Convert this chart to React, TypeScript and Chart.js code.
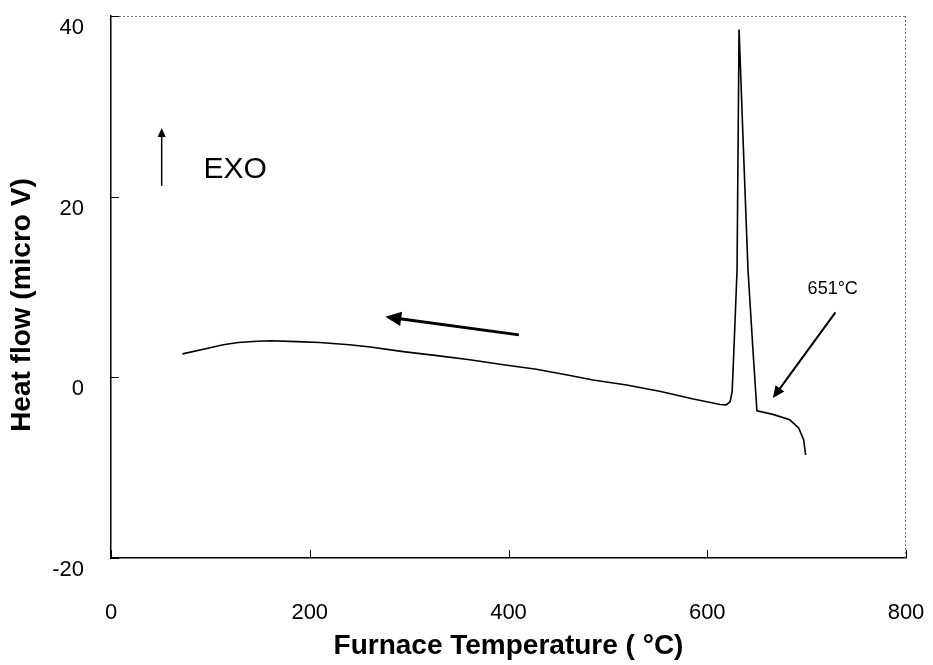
import React, { useEffect, useRef } from "react";
import { Chart, registerables } from "chart.js";

Chart.register(...registerables);

const temps = [72, 93, 113, 128, 147, 160, 187, 210, 240, 261, 294, 328, 361, 395, 428, 462, 485, 519, 552, 586, 613, 619, 623, 625, 626, 628, 630, 632, 636.5, 641, 646, 650, 666, 683, 692, 697, 699];
const heatFlow = [2.6, 3.1, 3.6, 3.85, 4.0, 4.05, 3.95, 3.85, 3.6, 3.35, 2.85, 2.4, 1.95, 1.4, 0.9, 0.2, -0.3, -0.85, -1.55, -2.4, -3.0, -3.05, -2.7, -1.6, 0.8, 6.3, 11.9, 38.5, 25.0, 11.9, 3.0, -3.7, -4.1, -4.7, -5.6, -6.9, -8.6];

const xTicks = [0, 200, 400, 600, 800];
const yTicks = [-20, 0, 20, 40];

const xTitle = "Furnace Temperature ( °C)";
const yTitle = "Heat flow (micro V)";
const exoLabel = "EXO";
const onsetLabel = "651°C";

// annotation anchors in data units
const exoArrow = [51, 21.2, 51, 27.6];
const exoText = [93, 23];
const coolArrow = [410.5, 4.7, 276, 6.7];
const onsetArrow = [729, 7.2, 666, -2.3];
const onsetText = [701, 9.8];
const yTitleCenter = 8; // data units along y

const FONT = "'Liberation Sans', Arial, Helvetica, sans-serif";

function arrow(ctx: CanvasRenderingContext2D, x1: number, y1: number, x2: number, y2: number, w: number, head: number) {
  const ang = Math.atan2(y2 - y1, x2 - x1);
  ctx.save();
  ctx.strokeStyle = "#000";
  ctx.fillStyle = "#000";
  ctx.lineWidth = w;
  ctx.beginPath();
  ctx.moveTo(x1, y1);
  ctx.lineTo(x2 - Math.cos(ang) * head * 0.8, y2 - Math.sin(ang) * head * 0.8);
  ctx.stroke();
  ctx.beginPath();
  ctx.moveTo(x2, y2);
  ctx.lineTo(x2 - head * Math.cos(ang) + head * 0.45 * Math.sin(ang), y2 - head * Math.sin(ang) - head * 0.45 * Math.cos(ang));
  ctx.lineTo(x2 - head * Math.cos(ang) - head * 0.45 * Math.sin(ang), y2 - head * Math.sin(ang) + head * 0.45 * Math.cos(ang));
  ctx.closePath();
  ctx.fill();
  ctx.restore();
}

const decor = {
  id: "decor",
  afterDraw(chart: any) {
    const { ctx, chartArea: a, scales } = chart;
    const xs = scales.x, ys = scales.y;
    const px = (v: number) => xs.getPixelForValue(v);
    const py = (v: number) => ys.getPixelForValue(v);
    ctx.save();
    // dotted top/right frame
    ctx.strokeStyle = "#777";
    ctx.lineWidth = 1;
    ctx.setLineDash([2, 2]);
    ctx.beginPath();
    ctx.moveTo(a.left, a.top + 0.5);
    ctx.lineTo(a.right, a.top + 0.5);
    ctx.moveTo(a.right - 0.5, a.top);
    ctx.lineTo(a.right - 0.5, a.bottom);
    ctx.stroke();
    ctx.setLineDash([]);
    // inside ticks
    ctx.strokeStyle = "#000";
    ctx.beginPath();
    xTicks.forEach((t) => {
      const x = Math.round(px(t)) + 0.5;
      ctx.moveTo(x, a.bottom);
      ctx.lineTo(x, a.bottom - 8);
    });
    yTicks.forEach((t) => {
      const y = Math.round(py(t)) + 0.5;
      ctx.moveTo(a.left, y);
      ctx.lineTo(a.left + 8, y);
    });
    ctx.stroke();
    // annotations
    arrow(ctx, px(exoArrow[0]), py(exoArrow[1]), px(exoArrow[2]), py(exoArrow[3]), 1.5, 9);
    arrow(ctx, px(coolArrow[0]), py(coolArrow[1]), px(coolArrow[2]), py(coolArrow[3]), 3, 16);
    arrow(ctx, px(onsetArrow[0]), py(onsetArrow[1]), px(onsetArrow[2]), py(onsetArrow[3]), 2, 12);
    ctx.fillStyle = "#000";
    ctx.textBaseline = "middle";
    ctx.textAlign = "left";
    ctx.font = `30px ${FONT}`;
    ctx.fillText(exoLabel, px(exoText[0]), py(exoText[1]));
    ctx.font = `18px ${FONT}`;
    ctx.fillText(onsetLabel, px(onsetText[0]), py(onsetText[1]));
    // y axis title
    ctx.save();
    ctx.translate(22, py(yTitleCenter));
    ctx.rotate(-Math.PI / 2);
    ctx.textAlign = "center";
    ctx.textBaseline = "middle";
    ctx.font = `bold 28px ${FONT}`;
    ctx.fillText(yTitle, 0, 0);
    ctx.restore();
    ctx.restore();
  },
};

export default function App() {
  const ref = useRef<HTMLCanvasElement>(null);
  useEffect(() => {
    if (!ref.current) return;
    const chart = new Chart(ref.current, {
      type: "line",
      data: {
        datasets: [
          {
            data: temps.map((t, i) => ({ x: t, y: heatFlow[i] })),
            borderColor: "#000",
            borderWidth: 1.6,
            pointRadius: 0,
            tension: 0,
            fill: false,
          },
        ],
      },
      options: {
        responsive: false,
        animation: false,
        events: [],
        layout: { padding: { top: 16, right: 27, left: 0, bottom: 0 } },
        plugins: { legend: { display: false }, tooltip: { enabled: false } },
        scales: {
          x: {
            type: "linear",
            min: 0,
            max: 800,
            afterBuildTicks: (s: any) => {
              s.ticks = xTicks.map((v) => ({ value: v }));
            },
            afterFit: (s: any) => {
              s.height = 107;
            },
            grid: { display: true, drawOnChartArea: false, drawTicks: true, tickLength: 42, tickColor: "rgba(0,0,0,0)", color: "rgba(0,0,0,0)" },
            border: { display: true, color: "#000", width: 1.5 },
            ticks: { color: "#000", font: { family: FONT, size: 22 }, padding: 0, maxRotation: 0 },
            title: { display: true, text: xTitle, color: "#000", font: { family: FONT, size: 28, weight: "bold" }, padding: { top: 0, bottom: 2 } },
          },
          y: {
            type: "linear",
            min: -20,
            max: 40,
            afterBuildTicks: (s: any) => {
              s.ticks = yTicks.map((v) => ({ value: v }));
            },
            afterFit: (s: any) => {
              s.width = 111;
            },
            grid: { display: true, drawOnChartArea: false, drawTicks: true, tickLength: 27, tickColor: "rgba(0,0,0,0)", color: "rgba(0,0,0,0)" },
            border: { display: true, color: "#000", width: 1.5 },
            ticks: { color: "#000", font: { family: FONT, size: 22 }, padding: 0, labelOffset: 12 },
            title: { display: false, text: yTitle },
          },
        },
      },
      plugins: [decor],
    });
    return () => chart.destroy();
  }, []);
  return (
    <canvas
      ref={ref}
      width={933}
      height={665}
      style={{ position: "absolute", left: 0, top: 0, display: "block", background: "#fff" }}
    />
  );
}
